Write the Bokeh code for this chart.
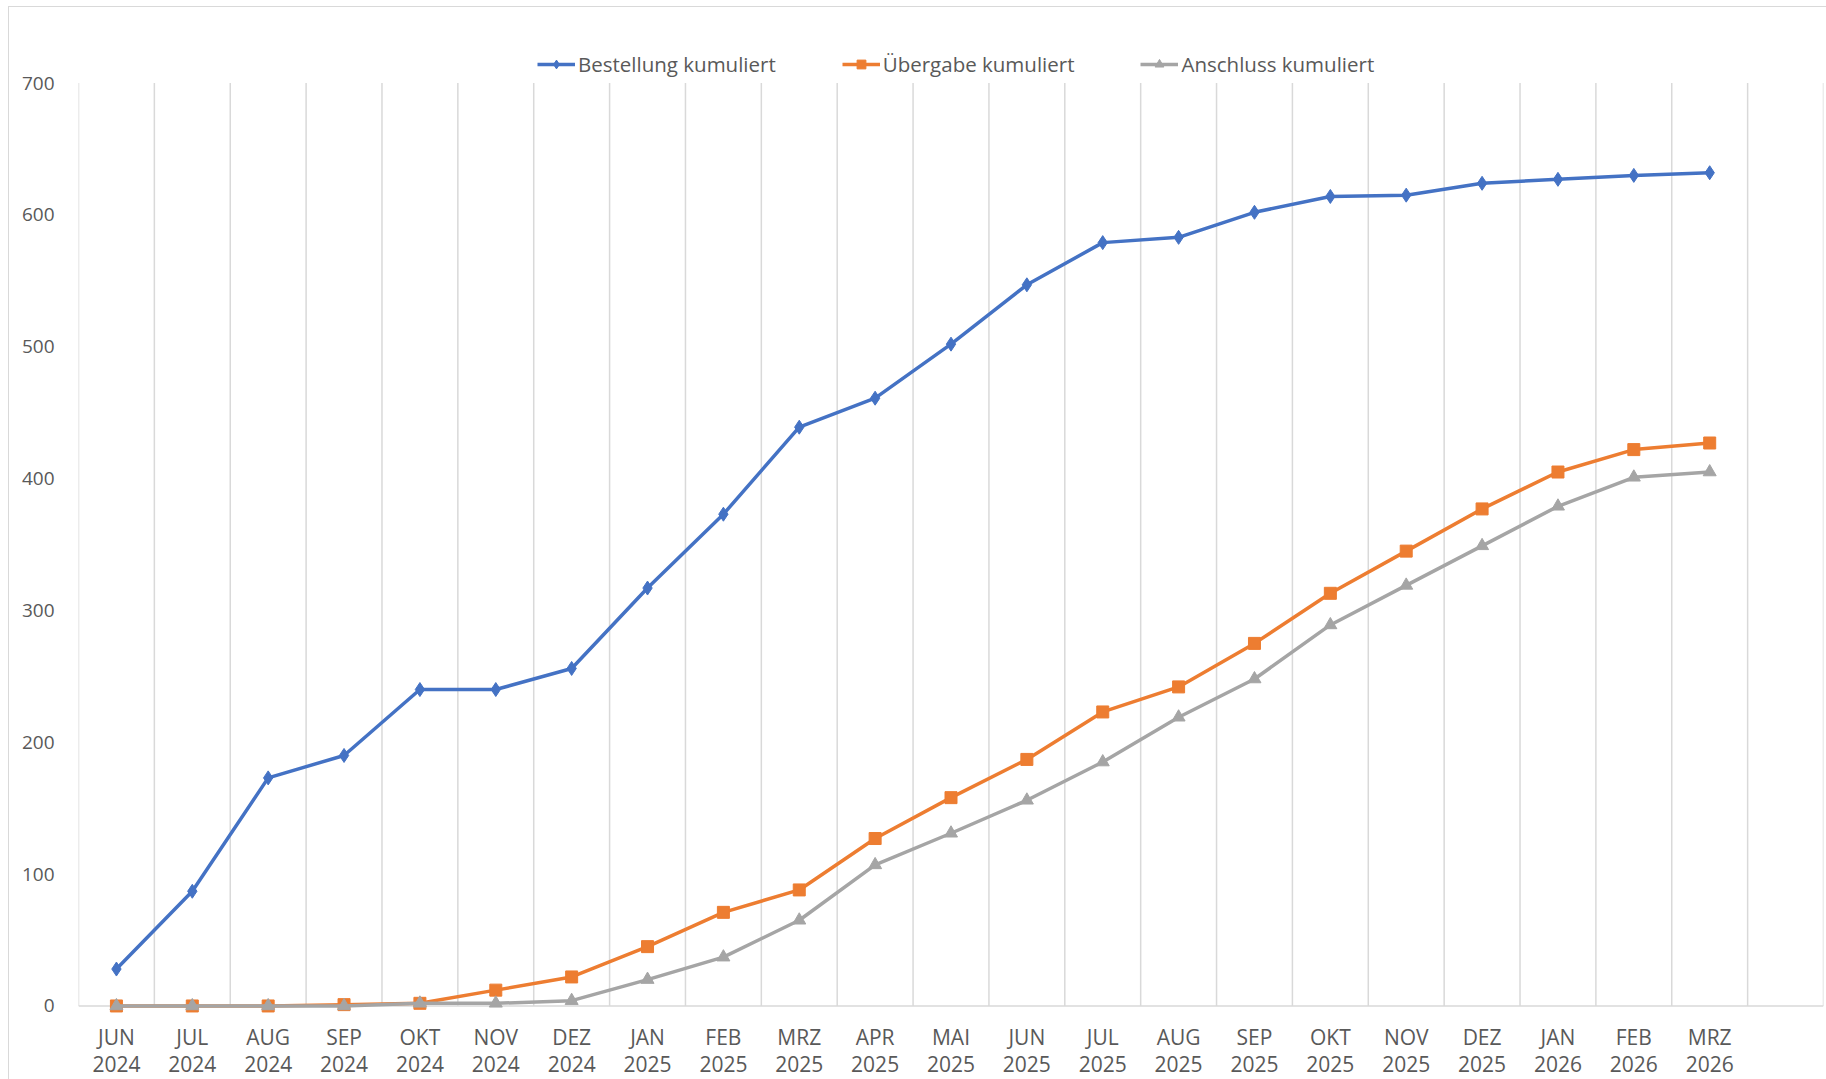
import numpy as np
from bokeh.plotting import figure
from bokeh.models import Range1d, FixedTicker, Legend, LegendItem, Span
from bokeh.embed import file_html
from bokeh.resources import INLINE

months = ["JUN", "JUL", "AUG", "SEP", "OKT", "NOV", "DEZ", "JAN", "FEB", "MRZ", "APR", "MAI",
          "JUN", "JUL", "AUG", "SEP", "OKT", "NOV", "DEZ", "JAN", "FEB", "MRZ"]
years = ["2024"] * 7 + ["2025"] * 12 + ["2026"] * 3

bestellung = [28, 87, 173, 190, 240, 240, 256, 317, 373, 439, 461, 502,
              547, 579, 583, 602, 614, 615, 624, 627, 630, 632]
uebergabe = [0, 0, 0, 1, 2, 12, 22, 45, 71, 88, 127, 158,
             187, 223, 242, 275, 313, 345, 377, 405, 422, 427]
anschluss = [0, 0, 0, 0, 2, 2, 4, 20, 37, 65, 107, 131,
             156, 185, 219, 248, 289, 319, 349, 379, 401, 405]

y_ticks = [0, 100, 200, 300, 400, 500, 600, 700]

n = len(months)
n_slots = n + 1  # one empty category slot at the right end
xs = [i + 0.5 for i in range(n)]

FONT = "Open Sans"
TXT = "#595959"
GRID = "#d9d9d9"

# frame extends above 700 so that the legend sits inside it (no axis line, no y grid)
p = figure(width=1818, height=1073, output_backend="svg", toolbar_location=None,
           x_range=Range1d(0, n_slots), y_range=Range1d(-8, 749),
           min_border_left=69, min_border_right=4, min_border_top=11, min_border_bottom=60,
           outline_line_color=None,
           styles={"margin-left": "8px", "margin-top": "6px",
                   "border-left": "1px solid #d9d9d9", "border-top": "1px solid #d9d9d9"})

p.xgrid.visible = False
p.ygrid.visible = False

# vertical category gridlines from 0 to 700
bounds = list(range(n_slots + 1))
p.segment(x0=bounds, y0=[0] * len(bounds), x1=bounds, y1=[max(y_ticks)] * len(bounds),
          line_color=GRID, line_width=1.5, level="underlay")
p.add_layout(Span(location=0, dimension="width", line_color=GRID, line_width=1.5, level="underlay"))

# axes
p.xaxis.ticker = FixedTicker(ticks=xs)
p.xaxis.major_label_overrides = {x: f"{m}\n{y}" for x, m, y in zip(xs, months, years)}
p.xaxis.axis_line_color = None
p.xaxis.major_tick_line_color = None
p.xaxis.minor_tick_line_color = None
p.xaxis.major_label_standoff = 0
p.xaxis.major_label_text_font = FONT
p.xaxis.major_label_text_font_size = "21px"
p.xaxis.major_label_text_color = TXT
p.xaxis.major_label_text_line_height = 0.97

p.yaxis.ticker = FixedTicker(ticks=y_ticks)
p.yaxis.axis_line_color = None
p.yaxis.major_tick_line_color = None
p.yaxis.minor_tick_line_color = None
p.yaxis.major_label_standoff = 18
p.yaxis.major_label_text_font = FONT
p.yaxis.major_label_text_font_size = "19px"
p.yaxis.major_label_text_color = TXT

BLUE = "#4472C4"
ORANGE = "#ED7D31"
GREY = "#A5A5A5"

l1 = p.line(xs, bestellung, line_color=BLUE, line_width=3.5)
m1 = p.scatter(xs, bestellung, marker="diamond", size=14,
               fill_color=BLUE, line_color=BLUE)
l2 = p.line(xs, uebergabe, line_color=ORANGE, line_width=3.5)
m2 = p.scatter(xs, uebergabe, marker="square", size=12, fill_color=ORANGE, line_color=ORANGE)
l3 = p.line(xs, anschluss, line_color=GREY, line_width=3.5)
m3 = p.scatter(xs, anschluss, marker="triangle", size=13, fill_color=GREY, line_color=GREY)

legend = Legend(items=[
    LegendItem(label="Bestellung kumuliert", renderers=[l1, m1]),
    LegendItem(label="Übergabe kumuliert", renderers=[l2, m2]),
    LegendItem(label="Anschluss kumuliert", renderers=[l3, m3]),
], orientation="horizontal", location=(459, 938),
    padding=0, margin=0, spacing=66, label_standoff=3,
    glyph_width=38, glyph_height=22,
    label_text_font=FONT, label_text_font_size="20.5px", label_text_color=TXT,
    border_line_color=None, background_fill_alpha=0)
p.add_layout(legend, "center")

open("out.html", "w").write(file_html(p, INLINE))
